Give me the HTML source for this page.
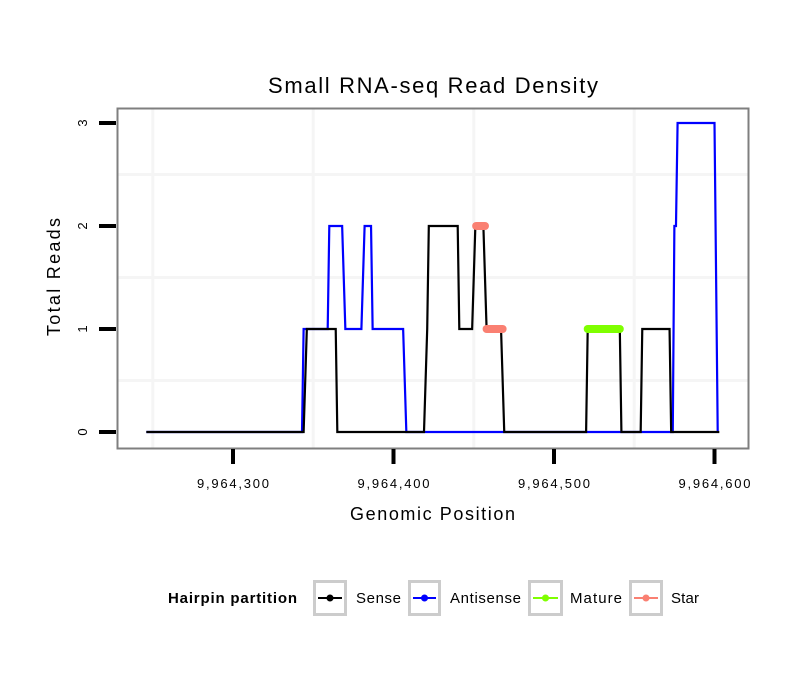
<!DOCTYPE html>
<html><head><meta charset="utf-8"><style>
body{margin:0;background:#fff;font-family:"Liberation Sans",sans-serif;}
</style></head><body>
<svg id="chart" width="810" height="690" xmlns="http://www.w3.org/2000/svg" style="font-family:'Liberation Sans',sans-serif">
<rect width="810" height="690" fill="#fff"/>
<text x="268" y="93" font-size="22" textLength="330" lengthAdjust="spacing">Small RNA-seq Read Density</text>
<g id="grid"></g>
<g id="series"></g>
<rect x="117.5" y="108.5" width="631" height="340" fill="none" stroke="#7f7f7f" stroke-width="2"/>
<g id="axes"></g>
<text x="350" y="520" font-size="18" textLength="165" lengthAdjust="spacing">Genomic Position</text>
<text transform="translate(60,336) rotate(-90)" font-size="18" textLength="118" lengthAdjust="spacing">Total Reads</text>
<g font-size="15">
<text x="168" y="603" font-weight="bold" textLength="129" lengthAdjust="spacing">Hairpin partition</text>
<g><rect x="314.5" y="581.5" width="31" height="33" fill="#fff" stroke="#ccc" stroke-width="3"/><line x1="318" y1="598" x2="342" y2="598" stroke="#000" stroke-width="2"/><circle cx="330" cy="598" r="3.5" fill="#000"/><text x="356" y="603" textLength="45" lengthAdjust="spacing">Sense</text></g>
<g><rect x="409.5" y="581.5" width="30" height="33" fill="#fff" stroke="#ccc" stroke-width="3"/><line x1="413" y1="598" x2="436" y2="598" stroke="#00f" stroke-width="2"/><circle cx="424.5" cy="598" r="3.5" fill="#00f"/><text x="450" y="603" textLength="71" lengthAdjust="spacing">Antisense</text></g>
<g><rect x="529.5" y="581.5" width="32" height="33" fill="#fff" stroke="#ccc" stroke-width="3"/><line x1="533" y1="598" x2="558" y2="598" stroke="#7fff00" stroke-width="2"/><circle cx="545.5" cy="598" r="3.5" fill="#7fff00"/><text x="570" y="603" textLength="52" lengthAdjust="spacing">Mature</text></g>
<g><rect x="630.5" y="581.5" width="31" height="33" fill="#fff" stroke="#ccc" stroke-width="3"/><line x1="634" y1="598" x2="658" y2="598" stroke="#fa8072" stroke-width="2"/><circle cx="646" cy="598" r="3.5" fill="#fa8072"/><text x="671" y="603" textLength="28" lengthAdjust="spacing">Star</text></g>
</g>
</svg>
<script>
const BASE = 9964000;
const xTicks = [9964300, 9964400, 9964500, 9964600];
const xTickLabels = ["9,964,300", "9,964,400", "9,964,500", "9,964,600"];
const yTicks = [0, 1, 2, 3];
const xGrid = [9964250, 9964350, 9964450, 9964550];
const yGrid = [0.5, 1.5, 2.5];
const senseX = [246,344,346,364,365,419,421,422,440,441,449,451,456,458,467,469,520,521,541,542,554,555,572,573,603];
const senseY = [0,0,1,1,0,0,1,2,2,1,1,2,2,1,1,0,0,1,1,0,0,1,1,0,0];
const antiX = [246,343,344,359,360,368,370,380,382,386,387,406,408,574,575,576,577,600,602];
const antiY = [0,0,1,1,2,2,1,1,2,2,1,1,0,0,2,2,3,3,0];
const matureSeg = [[521,541,1]];
const starSeg = [[451.5,457,2],[458,468,1]];

const sx = v => 233 + (v - 9964300) * 1.605;
const sy = v => 432 - v * 103;
const NS = "http://www.w3.org/2000/svg";
function mk(tag, attrs, parent){const e=document.createElementNS(NS,tag);for(const k in attrs)e.setAttribute(k,attrs[k]);parent.appendChild(e);return e;}
const grid=document.getElementById('grid'), ser=document.getElementById('series'), axes=document.getElementById('axes');
xGrid.forEach(g=>{const l=mk('line',{x1:sx(g),x2:sx(g),y1:109,y2:448,stroke:'#f5f5f5','stroke-width':3},grid);

});
yGrid.forEach(g=>{const l=mk('line',{x1:118,x2:748,y1:sy(g),y2:sy(g),stroke:'#f5f5f5','stroke-width':3},grid);

});
function poly(xs,ys,color,name){const p=mk('polyline',{points:xs.map((x,i)=>sx(BASE+x)+','+sy(ys[i])).join(' '),fill:'none',stroke:color,'stroke-width':2.2},ser);

}
poly(antiX,antiY,'#0000ff','antisense-line');
poly(senseX,senseY,'#000000','sense-line');
function segs(arr,color,name){arr.forEach(s=>{const l=mk('line',{x1:sx(BASE+s[0]),x2:sx(BASE+s[1]),y1:sy(s[2]),y2:sy(s[2]),stroke:color,'stroke-width':8,'stroke-linecap':'round'},ser);

});}
segs(matureSeg,'#7fff00','mature-segment');
segs(starSeg,'#fa8072','star-segment');
xTicks.forEach((t,i)=>{const l=mk('line',{x1:sx(t),x2:sx(t),y1:449,y2:464,stroke:'#000','stroke-width':4},axes);


const tx=mk('text',{x:sx(t)-36,y:488,'font-size':13,textLength:72,lengthAdjust:'spacing'},axes);tx.textContent=xTickLabels[i];

});
yTicks.forEach(t=>{const l=mk('line',{x1:99,x2:116,y1:sy(t),y2:sy(t),stroke:'#000','stroke-width':4},axes);


const tx=mk('text',{transform:`translate(87,${sy(t)}) rotate(-90)`,'font-size':13,'text-anchor':'middle'},axes);tx.textContent=String(t);

});
</script>
</body></html>
